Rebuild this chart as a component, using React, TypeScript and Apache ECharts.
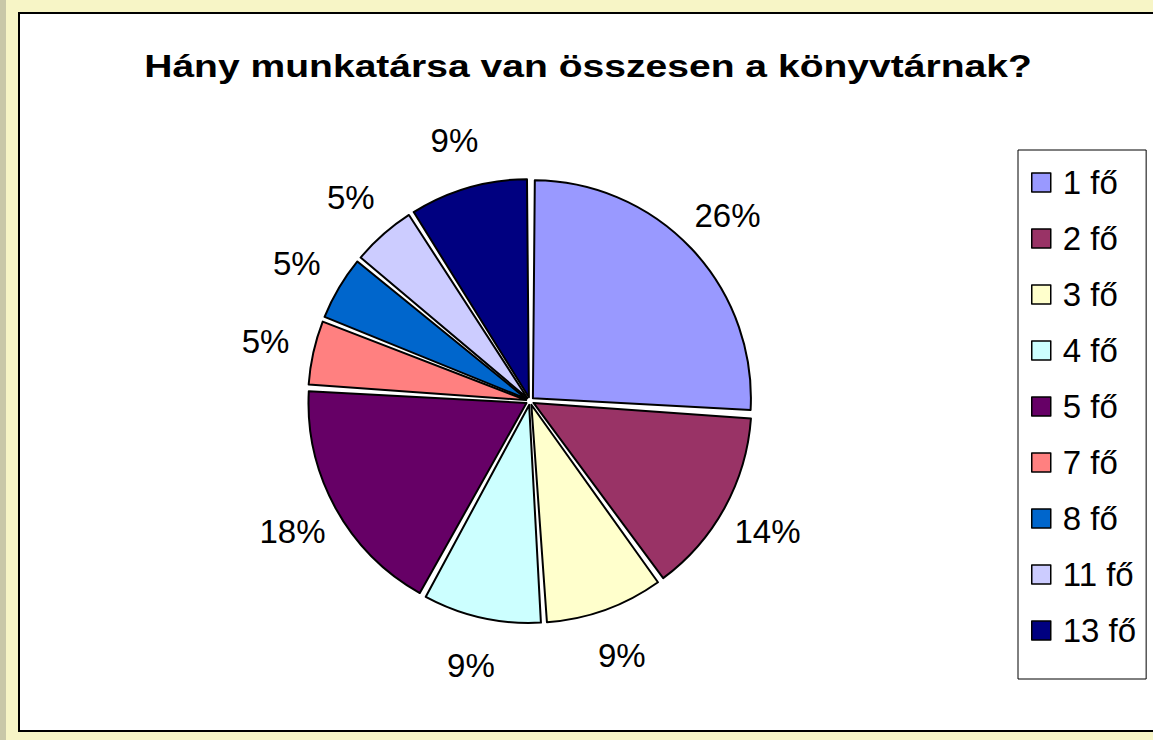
import React, { useEffect, useRef } from "react";
import * as echarts from "echarts";

const titleText = "Hány munkatársa van összesen a könyvtárnak?";
const categories = ["1 fő", "2 fő", "3 fő", "4 fő", "5 fő", "7 fő", "8 fő", "11 fő", "13 fő"];
const values = [26, 14, 9, 9, 18, 5, 5, 5, 9];
const colors = ["#9999FF", "#993366", "#FFFFCC", "#CCFFFF", "#660066", "#FF8080", "#0066CC", "#CCCCFF", "#000080"];

export default function App() {
  const ref = useRef<HTMLDivElement>(null);
  useEffect(() => {
    if (!ref.current) return;
    const chart = echarts.init(ref.current, null, { renderer: "svg" });
    const font = "'Liberation Sans', Arial, sans-serif";
    const border = { borderColor: "#000000", borderWidth: 2 };
    const mainData = categories.map((name, i) => ({
      name,
      value: values[i],
      selected: true,
      itemStyle: { color: colors[i] },
    }));
    const labelData = categories.map((name, i) => ({
      name,
      value: values[i],
    }));
    chart.setOption({
      animation: false,
      backgroundColor: "#F7F5C6",
      graphic: [
        { type: "rect", z: -10, shape: { x: 0, y: 0, width: 6, height: 740 }, style: { fill: "#C9C8A8" } },
        { type: "rect", z: -9, shape: { x: 19, y: 13, width: 1150, height: 718 }, style: { fill: "#FFFFFF", stroke: "#000000", lineWidth: 2 } },
        {
          type: "text",
          z: 5,
          x: 588,
          y: 66,
          scaleX: 1.26,
          style: {
            text: titleText,
            font: `bold 31px ${font}`,
            fill: "#000000",
            align: "center",
            verticalAlign: "middle",
          },
        },
      ],
      legend: {
        orient: "vertical",
        left: 1018,
        top: 150,
        icon: "rect",
        itemWidth: 19,
        itemHeight: 19,
        itemGap: 23,
        padding: [16, 10, 32, 13],
        backgroundColor: "#FFFFFF",
        borderColor: "#000000",
        borderWidth: 1,
        selectedMode: false,
        data: categories.map((name, i) => ({ name, itemStyle: { color: colors[i], borderColor: "#000", borderWidth: 1.5 } })),
        textStyle: { fontFamily: font, fontSize: 33, color: "#000", padding: [0, 0, 0, 7] },
      },
      series: [
        {
          type: "pie",
          name: "main",
          center: [530, 401],
          radius: 218,
          startAngle: 90,
          clockwise: true,
          selectedMode: "multiple",
          selectedOffset: 4,
          padAngle: 1,
          emphasis: { scale: false, itemStyle: border },
          select: { itemStyle: border },
          itemStyle: border,
          label: { show: false },
          labelLine: { show: false },
          data: mainData,
        },
        {
          type: "pie",
          name: "labels",
          center: [530, 401],
          radius: [250, 286],
          startAngle: 90,
          clockwise: true,
          silent: true,
          legendHoverLink: false,
          emphasis: { disabled: true },
          itemStyle: { color: "rgba(0,0,0,0)", borderWidth: 0 },
          label: {
            show: true,
            position: "inside",
            fontFamily: font,
            fontSize: 33,
            color: "#000",
            formatter: (p: any) => `${Math.round(p.percent)}%`,
          },
          labelLine: { show: false },
          data: labelData,
        },
      ],
    });
    return () => chart.dispose();
  }, []);
  return <div ref={ref} style={{ position: "absolute", left: 0, top: 0, width: 1153, height: 740 }} />;
}
